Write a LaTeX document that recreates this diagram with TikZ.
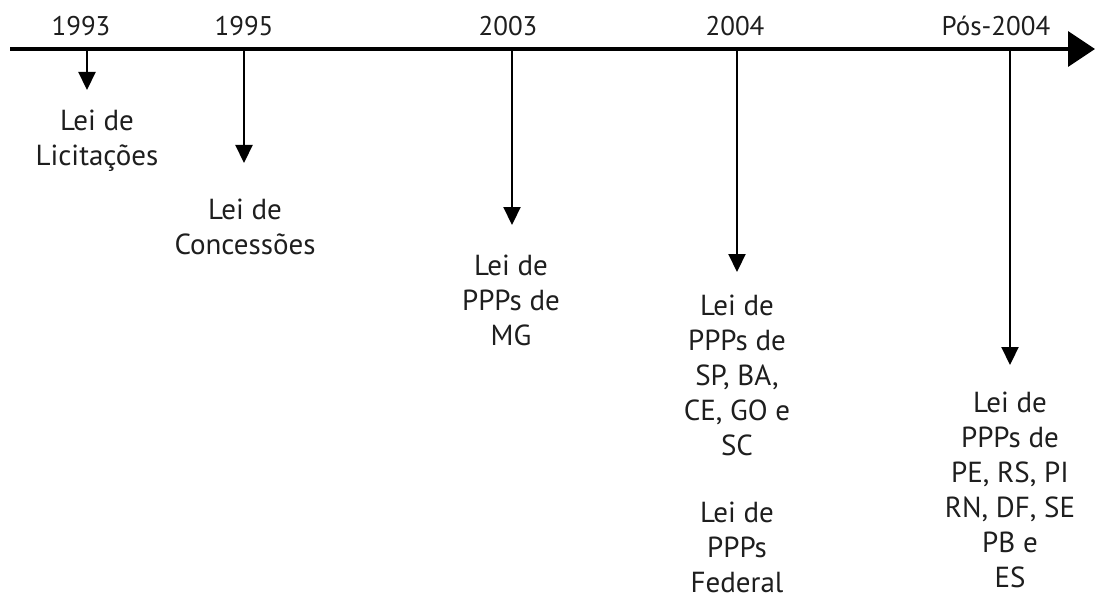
\documentclass[tikz,border=0pt]{standalone}
\usepackage{fontspec}
\setmainfont{PT Sans}
\usetikzlibrary{arrows.meta}
\definecolor{texto}{HTML}{1E1E1E}
\tikzset{
  ano/.style={anchor=base, inner sep=0pt, text=texto, font=\fontsize{27}{35}\selectfont},
  lei/.style={align=center, anchor=base, inner sep=0pt, text=texto, font=\fontsize{29}{35}\selectfont},
  seta/.style={line width=2.2pt, -{Triangle[length=18pt,width=17pt]}},
  eixo/.style={line width=3.5pt, -{Triangle[length=27pt,width=35pt]}}
}
\begin{document}
\begin{tikzpicture}[x=1pt,y=-1pt]
\useasboundingbox (0,0) rectangle (1095,599);
% eixo do tempo
\coordinate (ini) at (10,49);
\coordinate (fim) at (1095,49);
\draw[eixo] (ini) -- (fim);
% anos
\node[ano] (a93) at (81,36) {1993};
\node[ano] (a95) at (244,36) {1995};
\node[ano] (a03) at (508,36) {2003};
\node[ano] (a04) at (735,36) {2004};
\node[ano] (apos) at (996,36) {Pós-2004};
% marcos
\coordinate (t93) at (87,49);  \coordinate (p93) at (87,90);
\coordinate (t95) at (244,49); \coordinate (p95) at (244,163);
\coordinate (t03) at (512,49); \coordinate (p03) at (512,225);
\coordinate (t04) at (737,49); \coordinate (p04) at (737,272);
\coordinate (tpos) at (1010,49); \coordinate (ppos) at (1010,365);
\draw[seta] (t93) -- (p93);
\draw[seta] (t95) -- (p95);
\draw[seta] (t03) -- (p03);
\draw[seta] (t04) -- (p04);
\draw[seta] (tpos) -- (ppos);
% leis (base = ultima linha)
\node[lei] (l93) at (97,165) {Lei de\\Licitações};
\node[lei] (l95) at (245,254) {Lei de\\Concessões};
\node[lei] (l03) at (511,345) {Lei de\\PPPs de\\MG};
\node[lei] (l04) at (737,455) {Lei de\\PPPs de\\SP, BA,\\CE, GO e\\SC};
\node[lei] (lfed) at (737,592) {Lei de\\PPPs\\Federal};
\node[lei] (lpos) at (1010,587) {Lei de\\PPPs de\\PE, RS, PI\\RN, DF, SE\\PB e\\ES};
\end{tikzpicture}
\end{document}
